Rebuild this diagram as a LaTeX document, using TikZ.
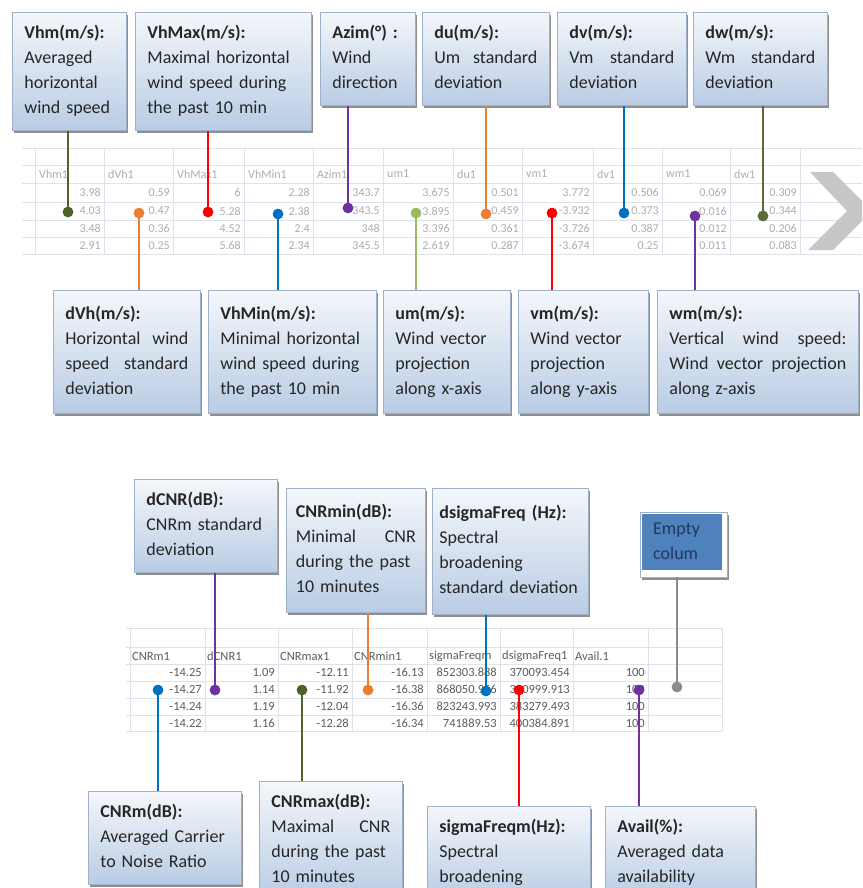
\documentclass[tikz,border=0pt]{standalone}
\usepackage{fontspec}
\setmainfont{Carlito}
\usetikzlibrary{shadows,calc}
\definecolor{boxtop}{HTML}{F4F7FB}
\definecolor{boxbot}{HTML}{B9CCE4}
\definecolor{boxframe}{HTML}{9FB1C8}
\definecolor{cOlive}{HTML}{4F6228}
\definecolor{cOliveB}{HTML}{5B6A36}
\definecolor{cRed}{HTML}{FF0000}
\definecolor{cPurple}{HTML}{7030A0}
\definecolor{cOrange}{HTML}{ED7D31}
\definecolor{cBlue}{HTML}{0070C0}
\definecolor{cGreen}{HTML}{9BBB59}
\definecolor{cGray}{HTML}{8C8C8C}
\definecolor{gridcol}{HTML}{DCE2EA}
\definecolor{toptxt}{HTML}{ADADAD}
\definecolor{bottxt}{HTML}{5A5E5A}
\definecolor{emptyfill}{HTML}{4F81BD}
\definecolor{emptytxt}{HTML}{1F3864}
\definecolor{chev}{HTML}{C6C6C6}
\tikzset{
  boxshadow/.style={drop shadow={shadow xshift=1.5pt, shadow yshift=-2.5pt, fill=black!55, opacity=0.8}},
  callout/.style={draw=boxframe, line width=0.8pt, top color=boxtop, bottom color=boxbot,
    anchor=north west, inner xsep=12pt, inner ysep=9pt, align=left,
    font=\fontsize{18}{25}\selectfont, text=black!85, boxshadow},
  emptybox/.style={anchor=north west, fill=emptyfill, text=emptytxt, minimum width=80pt,
    minimum height=56pt, text width=58pt, inner xsep=11pt, inner ysep=3pt, align=left,
    font=\fontsize{18}{25}\selectfont},
  wire/.style={line width=2.2pt},
  dotmark/.style={circle, fill=#1, inner sep=0pt, minimum size=10.5pt},
  gridline/.style={draw=gridcol, line width=0.8pt},
  tophdr/.style={anchor=west, inner sep=0pt, font=\fontsize{12}{13}\selectfont, text=toptxt},
  topval/.style={anchor=east, inner sep=0pt, font=\fontsize{12}{13}\selectfont, text=toptxt},
  bothdr/.style={anchor=west, inner sep=0pt, font=\fontsize{12.5}{14}\selectfont, text=bottxt},
  botval/.style={anchor=east, inner sep=0pt, font=\fontsize{12.5}{14}\selectfont, text=bottxt},
}
\begin{document}
\begin{tikzpicture}[x=1pt,y=-1pt]
\useasboundingbox (0,0) rectangle (862,888);
\clip (0,0) rectangle (862,888);
\fill[white] (0,0) rectangle (862,888);

% ---------- top table ----------
\foreach \y in {148,165,183,202,220,237,254} \draw[gridline] (22,\y) -- (862,\y);
\foreach \x in {35,104,173,244,313,383,453,522,593,662,730,800} \draw[gridline] (\x,148) -- (\x,254);
\foreach \l/\r/\h/\a/\b/\c/\d [count=\i] in {
  35/104/Vhm1/3.98/4.03/3.48/2.91,
  104/173/dVh1/0.59/0.47/0.36/0.25,
  173/244/VhMax1/6/5.28/4.52/5.68,
  244/313/VhMin1/2.28/2.38/2.4/2.34,
  313/383/Azim1/343.7/343.5/348/345.5,
  383/453/um1/3.675/3.895/3.396/2.619,
  453/522/du1/0.501/0.459/0.361/0.287,
  522/593/vm1/3.772/-3.932/-3.726/-3.674,
  593/662/dv1/0.506/0.373/0.387/0.25,
  662/730/wm1/0.069/0.016/0.012/0.011,
  730/800/dw1/0.309/0.344/0.206/0.083}
{
  \node[tophdr] (th\i) at (\l+4,174) {\h};
  \node[topval] (ta\i) at (\r-3,192.5) {\a};
  \node[topval] (tb\i) at (\r-3,211) {\b};
  \node[topval] (tc\i) at (\r-3,228.5) {\c};
  \node[topval] (td\i) at (\r-3,245.5) {\d};
}
\fill[chev] (810,172) -- (833,172) -- (872,211) -- (833,250) -- (808,250) -- (847,211) -- cycle;

% ---------- bottom table ----------
\foreach \y in {628,647,664,681,698,715,731} \draw[gridline] (126,\y) -- (722,\y);
\foreach \x in {130,205,278,352,427,500,573,648,722} \draw[gridline] (\x,628) -- (\x,731);
\foreach \l/\r/\h/\a/\b/\c/\d [count=\i] in {
  130/205/CNRm1/-14.25/-14.27/-14.24/-14.22,
  205/278/dCNR1/1.09/1.14/1.19/1.16,
  278/352/CNRmax1/-12.11/-11.92/-12.04/-12.28,
  352/427/CNRmin1/-16.13/-16.38/-16.36/-16.34,
  427/500/sigmaFreqm/852303.888/868050.956/823243.993/741889.53,
  500/573/dsigmaFreq1/370093.454/390999.913/383279.493/400384.891,
  573/648/Avail.1/100/100/100/100}
{
  \node[bothdr] (bh\i) at (\l+2,656) {\h};
  \node[botval] (ba\i) at (\r-3,672.5) {\a};
  \node[botval] (bb\i) at (\r-3,689.5) {\b};
  \node[botval] (bc\i) at (\r-3,706.5) {\c};
  \node[botval] (bd\i) at (\r-3,723) {\d};
}

% ---------- top callouts ----------
\node[callout, text width=90pt] (vhm) at (12,12) {\strut\textbf{Vhm(m/s):}\\Averaged\\horizontal\\wind speed\strut};
\node[callout, text width=152pt] (vhmax) at (135,12) {\strut\textbf{VhMax(m/s):}\\Maximal horizontal\\wind speed during\\the past 10 min\strut};
\node[callout, text width=71pt] (azim) at (320,12) {\strut\textbf{Azim(°) :}\\Wind\\direction\strut};
\node[callout, text width=103pt] (du) at (422,12) {\strut\textbf{du(m/s):}\\Um\hfill standard\\deviation\strut};
\node[callout, text width=105pt] (dv) at (557,12) {\strut\textbf{dv(m/s):}\\Vm\hfill standard\\deviation\strut};
\node[callout, text width=110pt] (dw) at (693,12) {\strut\textbf{dw(m/s):}\\Wm\hfill standard\\deviation\strut};

% ---------- middle callouts ----------
\node[callout, text width=123pt, minimum height=123pt] (dvh) at (53,290) {\strut\textbf{dVh(m/s):}\\Horizontal\hfill wind\\speed\hfill standard\\deviation\strut};
\node[callout, text width=144pt, minimum height=123pt] (vhmin) at (208,290) {\strut\textbf{VhMin(m/s):}\\Minimal horizontal\\wind speed during\\the past 10 min\strut};
\node[callout, text width=103pt, minimum height=123pt] (um) at (383,290) {\strut\textbf{um(m/s):}\\Wind vector\\projection\\along x-axis\strut};
\node[callout, text width=106pt, minimum height=123pt] (vm) at (518,290) {\strut\textbf{vm(m/s):}\\Wind vector\\projection\\along y-axis\strut};
\node[callout, text width=177pt, minimum height=123pt] (wm) at (657,290) {\strut\textbf{wm(m/s):}\\Vertical\hfill wind\hfill speed:\\Wind\hfill vector\hfill projection\\along z-axis\strut};

% ---------- bottom upper callouts ----------
\node[callout, text width=119pt] (dcnr) at (134,479) {\strut\textbf{dCNR(dB):}\\CNRm standard\\deviation\strut};
\node[callout, text width=120pt, inner xsep=9.5pt, minimum height=124pt] (cnrmin) at (286,488) {\strut\textbf{CNRmin(dB):}\\Minimal\hfill CNR\\\mbox{during the past}\\10 minutes\strut};
\node[callout, text width=142pt, inner xsep=7pt, minimum height=126pt] (dsig) at (432,488) {\strut\textbf{dsigmaFreq (Hz):}\\Spectral\\broadening\\\mbox{standard deviation}\strut};
\draw[boxframe, fill=white, line width=0.8pt, boxshadow] (640,512) rectangle (727,577);
\node[emptybox] (empty) at (642,514) {\strut Empty\\colum\strut};

% ---------- bottom lower callouts ----------
\node[callout, text width=129pt] (cnrm) at (88,791) {\strut\textbf{CNRm(dB):}\\Averaged Carrier\\to Noise Ratio\strut};
\node[callout, text width=119pt] (cnrmax) at (259,781) {\strut\textbf{CNRmax(dB):}\\Maximal\hfill CNR\\\mbox{during the past}\\10 minutes\strut};
\node[callout, text width=139pt] (sigfm) at (427,806) {\strut\textbf{sigmaFreqm(Hz):}\\Spectral\\broadening\strut};
\node[callout, text width=126pt] (avail) at (605,806) {\strut\textbf{Avail(\%):}\\Averaged data\\availability\strut};

% ---------- dots ----------
\node[dotmark=cOlive]  (p1)  at (68,212) {};
\node[dotmark=cRed]    (p2)  at (208,212) {};
\node[dotmark=cPurple] (p3)  at (348,208) {};
\node[dotmark=cOrange] (p4)  at (486,214) {};
\node[dotmark=cBlue]   (p5)  at (624,213) {};
\node[dotmark=cOliveB] (p6)  at (763,216) {};
\node[dotmark=cOrange] (p7)  at (139,213) {};
\node[dotmark=cBlue]   (p8)  at (278,214) {};
\node[dotmark=cGreen]  (p9)  at (416,213) {};
\node[dotmark=cRed]    (p10) at (552,213) {};
\node[dotmark=cPurple] (p11) at (695,216) {};
\node[dotmark=cPurple] (q1)  at (215,690) {};
\node[dotmark=cOrange] (q2)  at (368,690) {};
\node[dotmark=cBlue]   (q3)  at (486,691) {};
\node[dotmark=cGray]   (q4)  at (677,687) {};
\node[dotmark=cBlue]   (q5)  at (158,690) {};
\node[dotmark=cOlive]  (q6)  at (302,690) {};
\node[dotmark=cRed]    (q7)  at (519,690) {};
\node[dotmark=cPurple] (q8)  at (639,690) {};

% ---------- wires ----------
\draw[wire, cOlive]  (vhm.south -| p1) -- (p1);
\draw[wire, cRed]    (vhmax.south -| p2) -- (p2);
\draw[wire, cPurple] (azim.south -| p3) -- (p3);
\draw[wire, cOrange] (du.south -| p4) -- (p4);
\draw[wire, cBlue]   (dv.south -| p5) -- (p5);
\draw[wire, cOliveB] (dw.south -| p6) -- (p6);
\draw[wire, cOrange] (p7) -- (dvh.north -| p7);
\draw[wire, cBlue]   (p8) -- (vhmin.north -| p8);
\draw[wire, cGreen]  (p9) -- (um.north -| p9);
\draw[wire, cRed]    (p10) -- (vm.north -| p10);
\draw[wire, cPurple] (p11) -- (wm.north -| p11);
\draw[wire, cPurple] (dcnr.south -| q1) -- (q1);
\draw[wire, cOrange] (cnrmin.south -| q2) -- (q2);
\draw[wire, cBlue]   (dsig.south -| q3) -- (q3);
\draw[wire, cGray]   ($(empty.south -| q4)+(0,7)$) -- (q4);
\draw[wire, cBlue]   (q5) -- (cnrm.north -| q5);
\draw[wire, cOlive]  (q6) -- (cnrmax.north -| q6);
\draw[wire, cRed]    (q7) -- (sigfm.north -| q7);
\draw[wire, cPurple] (q8) -- (avail.north -| q8);
\foreach \n/\c in {p1/cOlive,p2/cRed,p3/cPurple,p4/cOrange,p5/cBlue,p6/cOliveB,p7/cOrange,p8/cBlue,p9/cGreen,p10/cRed,p11/cPurple,q1/cPurple,q2/cOrange,q3/cBlue,q4/cGray,q5/cBlue,q6/cOlive,q7/cRed,q8/cPurple}
  \fill[\c] (\n.center) circle (5.25pt);
\end{tikzpicture}
\end{document}
